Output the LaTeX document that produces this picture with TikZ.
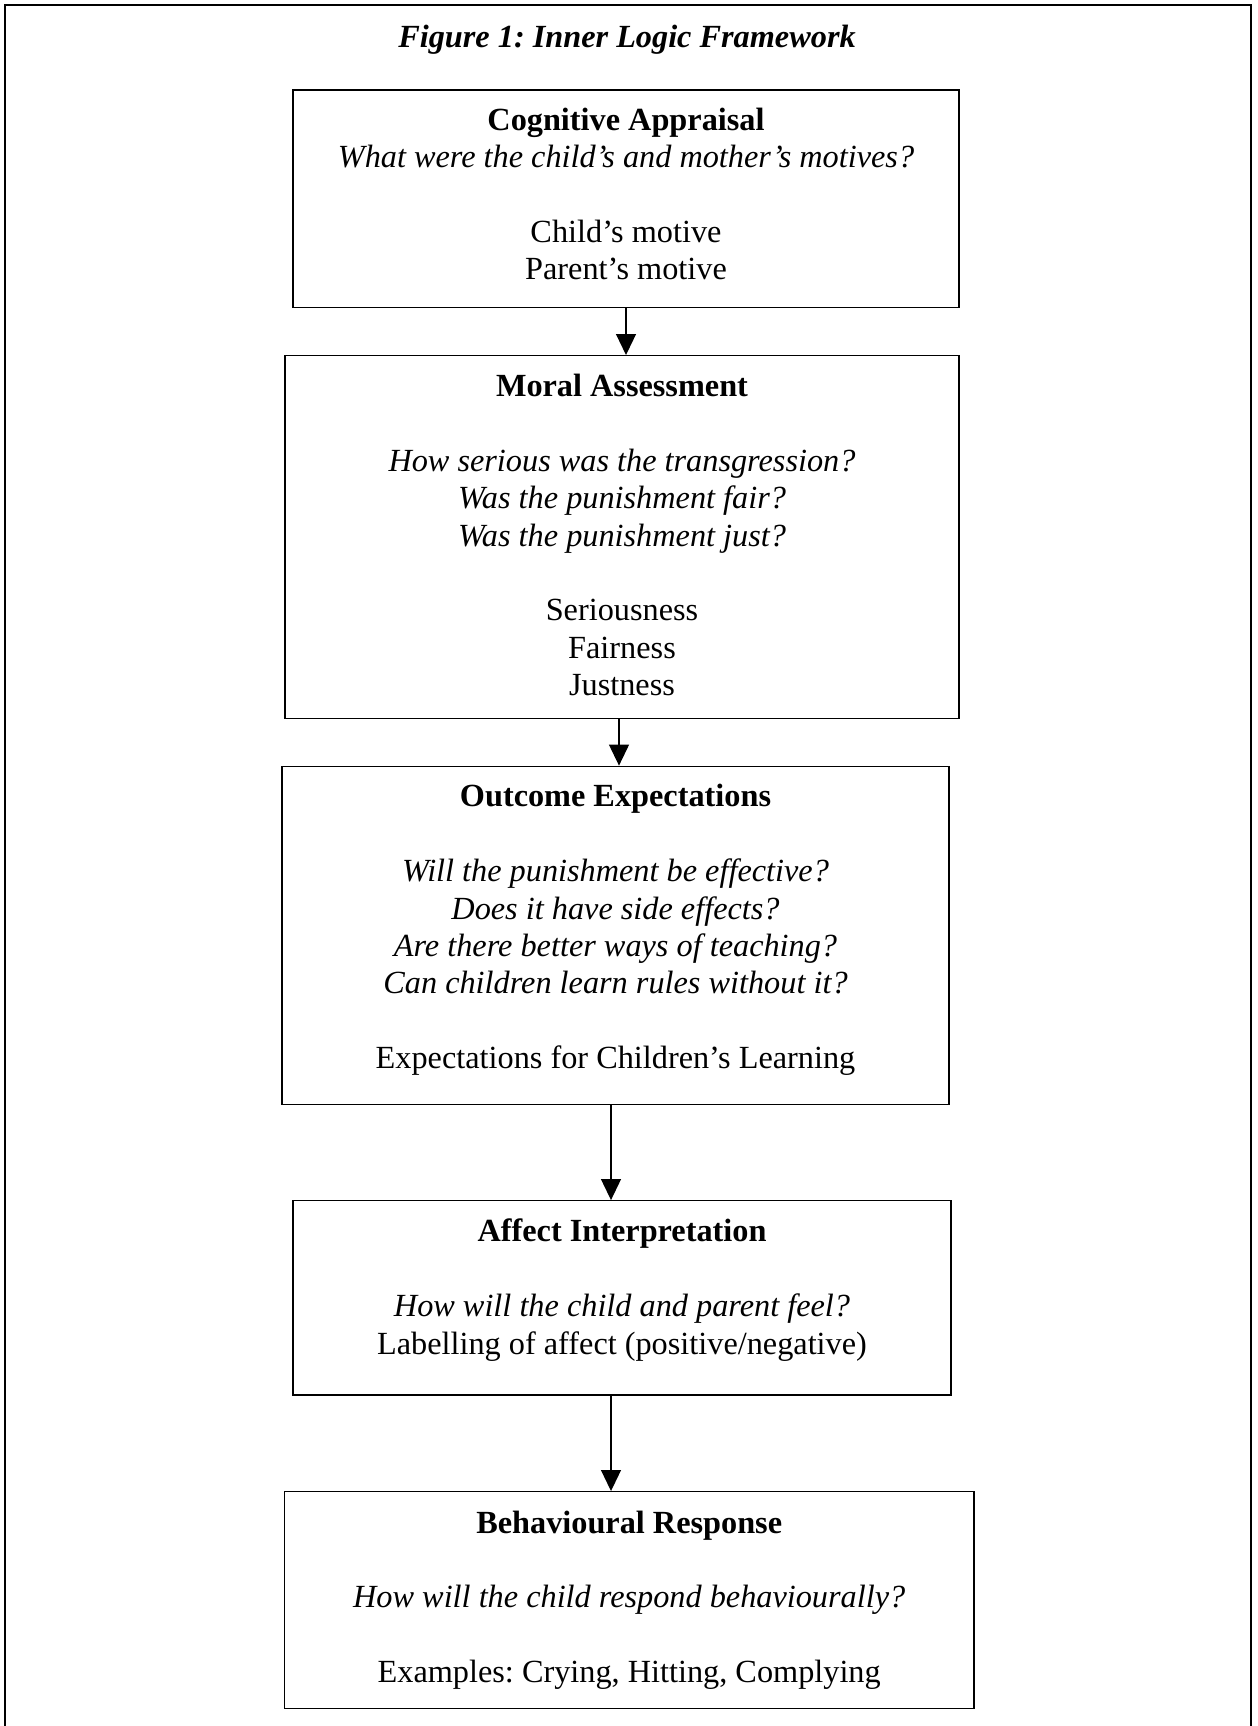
\documentclass[tikz,border=0pt]{standalone}
\usepackage{fontspec}
\setmainfont{Liberation Serif}
\usetikzlibrary{arrows.meta}
\def\pu{0.3717pt}
\def\gap{\\[13.9pt]}
\def\pad#1{\par\vskip#1\hrule height0pt depth0pt width0pt}

\begin{document}
\frenchspacing
\begin{tikzpicture}[x=0.3717pt,y=-0.3717pt,
    box/.style={draw, line width=0.5pt, align=flush center, inner sep=0pt, text width=240pt,
      font=\fontsize{12}{13.9}\selectfont},
    arr/.style={line width=0.5pt, -{Triangle[width=7.4pt,length=7.8pt]}},
    frame/.style={line width=0.75pt}]
  \useasboundingbox (0,0) rectangle (1257,1726);

  %%%%% frame and title %%%%%
  \draw[frame] (5,1730) -- (5,5) -- (1251,5) -- (1251,1730);
  \node[font=\fontsize{12}{13.9}\selectfont\bfseries\itshape] (title) at (627,39.5) {Figure 1: Inner Logic Framework};

  %%%%% boxes %%%%%
  \node[box, minimum width=666*\pu, minimum height=217.3*\pu] (cog) at (626,198.7)
    {\textbf{Cognitive Appraisal}\\ \textit{What were the child’s and mother’s motives?}\gap
     Child’s motive\\ Parent’s motive\pad{3.4pt}};

  \node[box, minimum width=674*\pu, minimum height=362.6*\pu] (moral) at (622,537)
    {\textbf{Moral Assessment}\gap
     \textit{How serious was the transgression?}\\ \textit{Was the punishment fair?}\\
     \textit{Was the punishment just?}\gap
     Seriousness\\ Fairness\\ Justness\pad{1.5pt}};

  \node[box, minimum width=667*\pu, minimum height=338.4*\pu] (outcome) at (615.5,935.5)
    {\textbf{Outcome Expectations}\gap
     \textit{Will the punishment be effective?}\\ \textit{Does it have side effects?}\\
     \textit{Are there better ways of teaching?}\\ \textit{Can children learn rules without it?}\gap
     Expectations for Children’s Learning\pad{4pt}};

  \node[box, minimum width=658*\pu, minimum height=194.3*\pu] (affect) at (622,1297.9)
    {\textbf{Affect Interpretation}\gap
     \textit{How will the child and parent feel?}\\ Labelling of affect (positive/negative)\pad{5.8pt}};

  \node[box, minimum width=689.7*\pu, minimum height=217*\pu] (behav) at (629.2,1600.2)
    {\textbf{Behavioural Response}\gap
     \textit{How will the child respond behaviourally?}\gap
     Examples: Crying, Hitting, Complying};

  %%%%% arrows %%%%%
  \coordinate (xtwo) at (619,0);
  \coordinate (xlow) at (611,0);
  \draw[arr] (cog.south) -- (cog.south |- moral.north);
  \draw[arr] (moral.south -| xtwo) -- (outcome.north -| xtwo);
  \draw[arr] (outcome.south -| xlow) -- (affect.north -| xlow);
  \draw[arr] (affect.south -| xlow) -- (behav.north -| xlow);
\end{tikzpicture}
\end{document}
